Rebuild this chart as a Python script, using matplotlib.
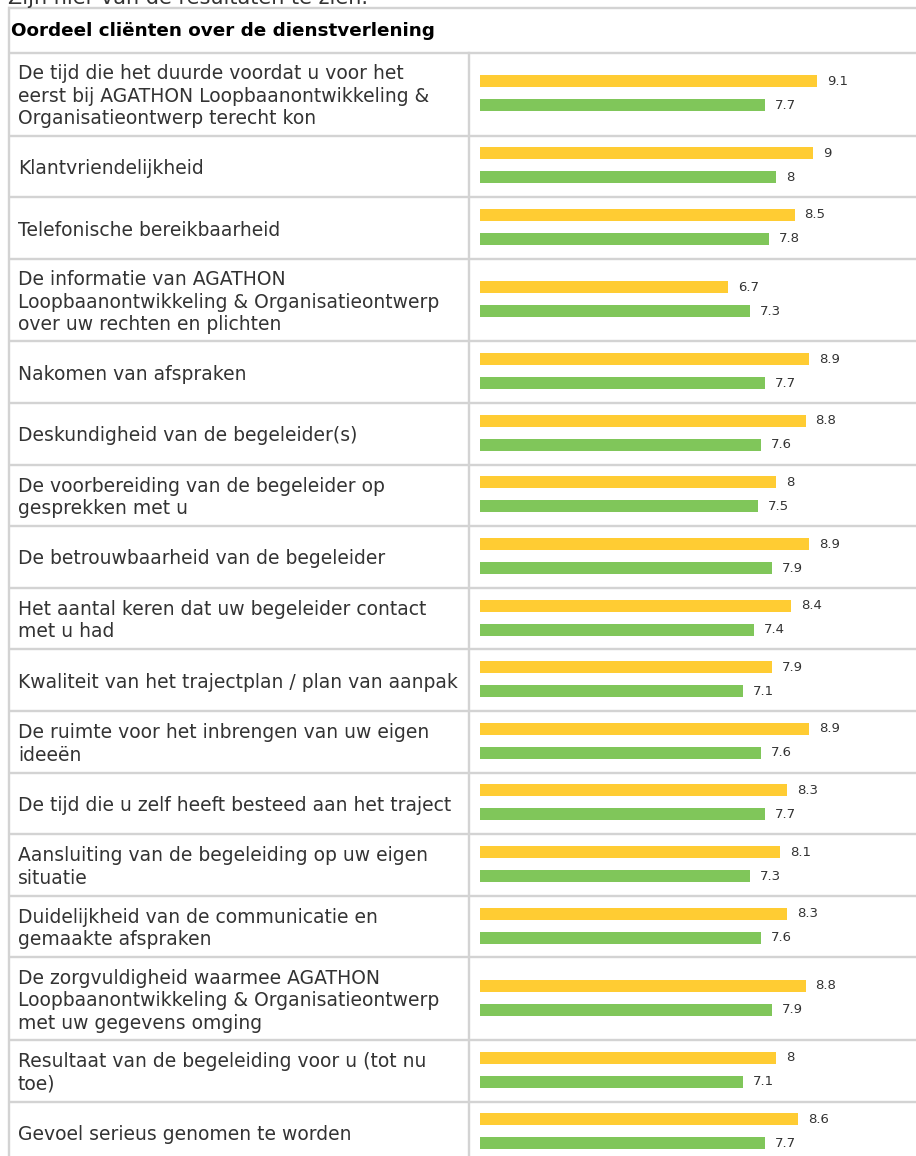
import matplotlib
matplotlib.use("Agg")
import matplotlib.pyplot as plt

# ---------------- data ----------------
title_top = "Zijn hier van de resultaten te zien."
header = "Oordeel cliënten over de dienstverlening"

categories = [
    "De tijd die het duurde voordat u voor het\neerst bij AGATHON Loopbaanontwikkeling &\nOrganisatieontwerp terecht kon",
    "Klantvriendelijkheid",
    "Telefonische bereikbaarheid",
    "De informatie van AGATHON\nLoopbaanontwikkeling & Organisatieontwerp\nover uw rechten en plichten",
    "Nakomen van afspraken",
    "Deskundigheid van de begeleider(s)",
    "De voorbereiding van de begeleider op\ngesprekken met u",
    "De betrouwbaarheid van de begeleider",
    "Het aantal keren dat uw begeleider contact\nmet u had",
    "Kwaliteit van het trajectplan / plan van aanpak",
    "De ruimte voor het inbrengen van uw eigen\nideeën",
    "De tijd die u zelf heeft besteed aan het traject",
    "Aansluiting van de begeleiding op uw eigen\nsituatie",
    "Duidelijkheid van de communicatie en\ngemaakte afspraken",
    "De zorgvuldigheid waarmee AGATHON\nLoopbaanontwikkeling & Organisatieontwerp\nmet uw gegevens omging",
    "Resultaat van de begeleiding voor u (tot nu\ntoe)",
    "Gevoel serieus genomen te worden",
]
series_yellow = [9.1, 9, 8.5, 6.7, 8.9, 8.8, 8, 8.9, 8.4, 7.9, 8.9, 8.3, 8.1, 8.3, 8.8, 8, 8.6]
series_green = [7.7, 8, 7.8, 7.3, 7.7, 7.6, 7.5, 7.9, 7.4, 7.1, 7.6, 7.7, 7.3, 7.6, 7.9, 7.1, 7.7]

# ---------------- layout ----------------
W, H = 916, 1156
DPI = 100
YELLOW = "#FFCC33"
GREEN = "#80C65A"
GRID = "#d3d3d3"
TXT = "#333333"
FS = 13.5

fig = plt.figure(figsize=(W / DPI, H / DPI), dpi=DPI)
fig.patch.set_facecolor("white")

bg = fig.add_axes([0, 0, 1, 1])
bg.set_xlim(0, W)
bg.set_ylim(H, 0)
bg.axis("off")

lw = 2.4 * 72 / DPI

# row boundaries
header_top, header_bot = 8, 53
bounds = [header_bot]
for c in categories:
    n = c.count("\n") + 1
    bounds.append(bounds[-1] + (82.6 if n >= 3 else 61.6))

# top (cut) text
bg.text(8, 4.5, title_top, fontsize=15, color=TXT, ha="left", va="baseline",
        family="DejaVu Sans")

# grid lines
for y in [header_top] + bounds:
    bg.plot([8, W + 5], [y, y], color=GRID, lw=lw, solid_capstyle="butt", zorder=1)
bg.plot([8.5, 8.5], [header_top, H + 5], color=GRID, lw=lw, zorder=1)
bg.plot([469, 469], [header_bot, H + 5], color=GRID, lw=lw, zorder=1)

# header
bg.text(11, (header_top + header_bot) / 2 + 1, header, fontsize=13.2, fontweight="bold",
        color="black", ha="left", va="center", family="DejaVu Sans")

# row labels
centers = []
for i, c in enumerate(categories):
    cy = (bounds[i] + bounds[i + 1]) / 2
    centers.append(cy)
    bg.text(18, cy + 2, c, fontsize=FS, color=TXT, ha="left", va="center",
            linespacing=1.23, family="DejaVu Sans")

# bars axis: value 0..10 maps to x 480..850 px
x0, x1 = 480, 850
bax = fig.add_axes([x0 / W, 0, (x1 - x0) / W, 1])
bax.set_xlim(0, 10)
bax.set_ylim(H, 0)
bax.axis("off")
bax.patch.set_alpha(0)

yc = [c - 13 for c in centers]
gc = [c + 11 for c in centers]
bax.barh(yc, series_yellow, height=12, color=YELLOW, left=0)
bax.barh(gc, series_green, height=12, color=GREEN, left=0)
off = 10 / ((x1 - x0) / 10)
for y, v in zip(yc, series_yellow):
    bax.text(v + off, y, f"{v:g}", fontsize=9.5, color=TXT, va="center", ha="left",
             clip_on=False)
for y, v in zip(gc, series_green):
    bax.text(v + off, y, f"{v:g}", fontsize=9.5, color=TXT, va="center", ha="left",
             clip_on=False)

fig.savefig("out.png", dpi=DPI, facecolor="white")
